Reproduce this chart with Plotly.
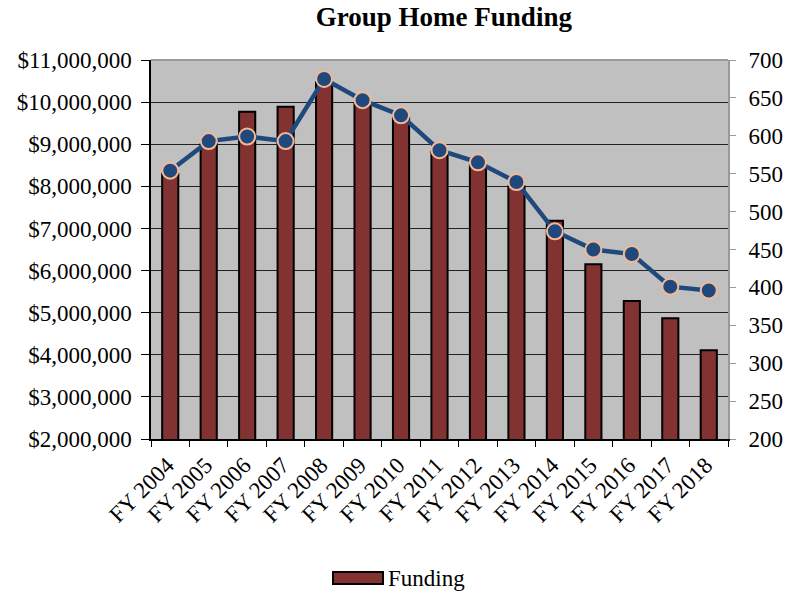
import plotly.graph_objects as go

years = ["FY 2004", "FY 2005", "FY 2006", "FY 2007", "FY 2008", "FY 2009", "FY 2010",
         "FY 2011", "FY 2012", "FY 2013", "FY 2014", "FY 2015", "FY 2016", "FY 2017", "FY 2018"]
funding = [8300000, 9000000, 9770000, 9890000, 10480000, 9980000, 9620000,
           8820000, 8500000, 8000000, 7180000, 6150000, 5280000, 4870000, 4110000]
homes = [554, 593, 599, 593, 675, 647, 627, 581, 565, 539, 474, 450, 444, 401, 396]

FONT = "Liberation Serif, Times New Roman, serif"
W, H = 787, 594
L, R, T, B = 151, 59, 60, 155
PW, PH = W - L - R, H - T - B


def px_x(p):
    return (p - L) / PW


def px_y(p):
    return (H - B - p) / PH


fig = go.Figure()
fig.add_trace(go.Bar(
    x=years, y=funding, name="Funding",
    marker=dict(color="#833232", line=dict(color="#000000", width=2)),
    yaxis="y", showlegend=False,
))
fig.add_trace(go.Scatter(
    x=years, y=homes, name="Homes", yaxis="y2", mode="lines+markers",
    line=dict(color="#1F497D", width=4.5),
    marker=dict(size=16, color="#1F497D", line=dict(color="#F4B896", width=2)),
    showlegend=False,
))

fig.update_layout(
    width=W, height=H,
    margin=dict(l=L, r=R, t=T, b=B, autoexpand=False),
    paper_bgcolor="white",
    plot_bgcolor="#C0C0C0",
    font=dict(family=FONT, size=23, color="black"),
    title=dict(text="<b>Group Home Funding</b>", font=dict(family=FONT, size=27, color="black"),
               x=0.564, xref="container", xanchor="center", y=0.972, yref="container", yanchor="middle"),
    bargap=0.58,
    showlegend=False,
    xaxis=dict(
        type="category", range=[-0.5, len(years) - 0.5], tickson="boundaries",
        ticks="outside", ticklen=6, tickcolor="#000",
        tickangle=-45, showline=True, linecolor="#000", linewidth=1.5, showgrid=False,
        tickfont=dict(family=FONT, size=23, color="black"), ticklabelstandoff=2,
        ticklabelshift=-3,
    ),
    yaxis=dict(
        range=[2000000, 11000000], dtick=1000000, tickformat="$,.0f",
        ticks="outside", ticklen=8, tickcolor="#000", showline=True, linecolor="#000", linewidth=1.5,
        showgrid=True, gridcolor="#222222", gridwidth=1, zeroline=False,
        tickfont=dict(family=FONT, size=23, color="black"), ticklabelstandoff=5,
    ),
    yaxis2=dict(
        overlaying="y", side="right", range=[200, 700], dtick=50,
        ticks="outside", ticklen=6, tickcolor="#999", showline=True, linecolor="#999", linewidth=2,
        showgrid=False, zeroline=False,
        tickfont=dict(family=FONT, size=23, color="black"), ticklabelstandoff=8,
    ),
    shapes=[
        dict(type="line", xref="paper", yref="paper", x0=0, x1=1, y0=1, y1=1,
             line=dict(color="#999999", width=2)),
        dict(type="rect", xref="paper", yref="paper",
             x0=px_x(333), x1=px_x(383), y0=px_y(584), y1=px_y(572),
             fillcolor="#833232", line=dict(color="#000000", width=2)),
    ],
    annotations=[
        dict(text="Funding", xref="paper", yref="paper", x=px_x(386), y=px_y(578),
             xanchor="left", yanchor="middle", showarrow=False,
             font=dict(family=FONT, size=23, color="black")),
    ],
)

fig.write_html("out.html", config={"displayModeBar": False},
               post_script="document.body.style.margin='0';")
